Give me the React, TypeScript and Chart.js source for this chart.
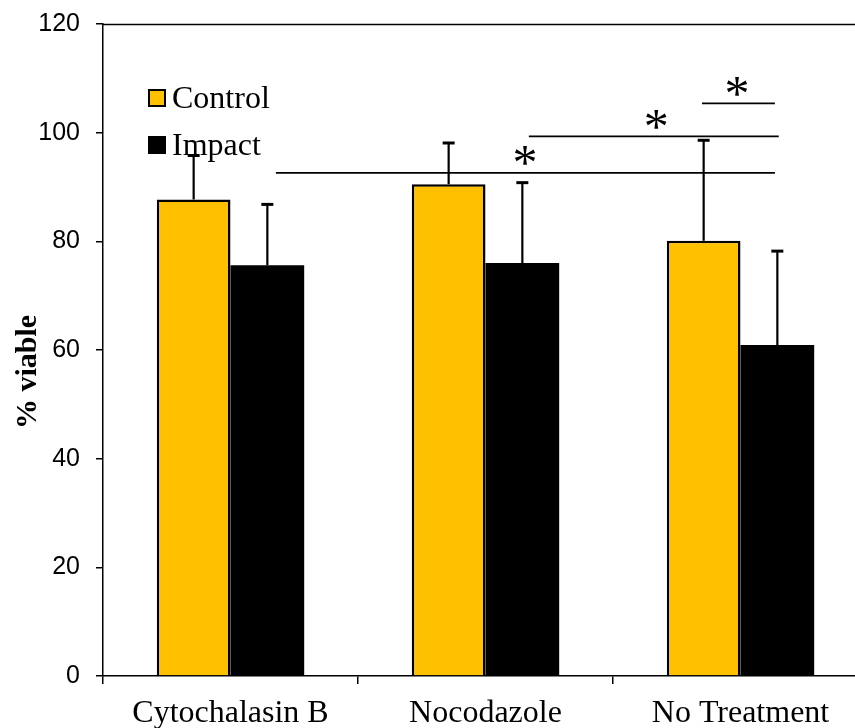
import React, { useEffect, useRef } from "react";
import { Chart, registerables } from "chart.js";

Chart.register(...registerables);

const categories = ["Cytochalasin B", "Nocodazole", "No Treatment"];
const controlValues = [87.7, 90.5, 80.1];
const controlErrors = [8.1, 7.6, 18.5];
const impactValues = [75.6, 76.0, 60.9];
const impactErrors = [11.2, 14.8, 17.3];
const yTicks = [0, 20, 40, 60, 80, 100, 120];

// significance brackets: x in category units, y in data units
const sigFrom = [0.178, 1.17, 1.849];
const sigTo = [2.135, 2.15, 2.135];
const sigY = [92.6, 99.3, 105.4];
const starX = [1.155, 1.67, 1.986];
const starY = [95.5, 102.2, 108.3];

const legendLabels = ["Control", "Impact"];
const colors = ["#FFC000", "#000000"];

const SERIF = "'Liberation Serif', 'Times New Roman', serif";
const SANS = "'Liberation Sans', Arial, sans-serif";

const overlayPlugin = {
  id: "overlay",
  afterDatasetsDraw(chart: any) {
    const ctx = chart.ctx;
    const xs = chart.scales.x;
    const ys = chart.scales.y;
    const area = chart.chartArea;
    const errs = [controlErrors, impactErrors];
    ctx.save();
    // top border
    ctx.strokeStyle = "#000";
    ctx.lineWidth = 1.5;
    ctx.beginPath();
    ctx.moveTo(area.left, Math.round(area.top) + 0.5);
    ctx.lineTo(area.right, Math.round(area.top) + 0.5);
    ctx.stroke();

    // error bars
    chart.data.datasets.forEach((ds: any, di: number) => {
      const meta = chart.getDatasetMeta(di);
      meta.data.forEach((bar: any, i: number) => {
        const v = ds.data[i];
        const top = ys.getPixelForValue(v + errs[di][i]);
        const x = bar.x;
        ctx.strokeStyle = "#000";
        ctx.lineWidth = 2.2;
        ctx.beginPath();
        ctx.moveTo(x, bar.y);
        ctx.lineTo(x, top);
        ctx.stroke();
        ctx.lineWidth = 3;
        ctx.beginPath();
        ctx.moveTo(x - 6, top);
        ctx.lineTo(x + 6, top);
        ctx.stroke();
      });
    });

    // significance lines
    const catPx = (c: number) => {
      const p0 = xs.getPixelForValue(0);
      const p1 = xs.getPixelForValue(1);
      return p0 + (p1 - p0) * c;
    };
    ctx.lineWidth = 1.7;
    ctx.strokeStyle = "#000";
    for (let i = 0; i < sigY.length; i++) {
      const y = ys.getPixelForValue(sigY[i]);
      ctx.beginPath();
      ctx.moveTo(catPx(sigFrom[i]), y);
      ctx.lineTo(catPx(sigTo[i]), y);
      ctx.stroke();
    }
    ctx.fillStyle = "#000";
    const starSize = 50;
    ctx.font = `${starSize}px ${SERIF}`;
    ctx.textAlign = "center";
    ctx.textBaseline = "alphabetic";
    for (let i = 0; i < starX.length; i++) {
      const y = ys.getPixelForValue(starY[i]);
      ctx.fillText("*", catPx(starX[i]), y + 0.44 * starSize);
    }

    // legend
    const legY = [98, 145];
    ctx.font = `32px ${SERIF}`;
    ctx.textAlign = "left";
    ctx.textBaseline = "alphabetic";
    for (let i = 0; i < legendLabels.length; i++) {
      ctx.fillStyle = colors[i];
      ctx.fillRect(148, legY[i] - 9, 18, 18);
      ctx.strokeStyle = "#000";
      ctx.lineWidth = 2;
      ctx.strokeRect(149, legY[i] - 8, 16, 16);
      ctx.fillStyle = "#000";
      ctx.fillText(legendLabels[i], 172, legY[i] + 10);
    }

    // y axis title
    ctx.save();
    ctx.translate(36, 372);
    ctx.rotate(-Math.PI / 2);
    ctx.font = `bold 30px ${SERIF}`;
    ctx.textAlign = "center";
    ctx.textBaseline = "alphabetic";
    ctx.fillStyle = "#000";
    ctx.fillText("% viable", 0, 0);
    ctx.restore();

    ctx.restore();
  },
};

export default function App() {
  const ref = useRef<HTMLCanvasElement | null>(null);
  useEffect(() => {
    if (!ref.current) return;
    const chart = new Chart(ref.current, {
      type: "bar",
      data: {
        labels: categories,
        datasets: [
          {
            label: legendLabels[0],
            data: controlValues,
            backgroundColor: colors[0],
            borderColor: "#000",
            borderWidth: 2.5,
          },
          {
            label: legendLabels[1],
            data: impactValues,
            backgroundColor: colors[1],
            borderColor: "#000",
            borderWidth: 0,
          },
        ],
      },
      options: {
        responsive: false,
        animation: false,
        devicePixelRatio: 1,
        layout: { padding: { left: 0, right: 12, top: 24, bottom: 0 } },
        datasets: {
          bar: { categoryPercentage: 0.578, barPercentage: 1 },
        },
        plugins: {
          legend: { display: false },
          tooltip: { enabled: false },
          title: { display: false },
        },
        scales: {
          x: {
            afterFit: (s: any) => {
              s.height = 52;
              s.paddingLeft = 0;
              s.paddingRight = 0;
            },
            grid: {
              offset: true,
              drawOnChartArea: false,
              drawTicks: true,
              tickLength: 8,
              color: "#000",
              lineWidth: 1.5,
            },
            border: { display: true, color: "#000", width: 1.5 },
            ticks: {
              color: "#000",
              font: { family: SERIF, size: 32 },
              padding: 10,
              maxRotation: 0,
              autoSkip: false,
            },
          },
          y: {
            min: 0,
            max: 120,
            afterFit: (s: any) => {
              s.width = 103;
              s.paddingTop = 0;
              s.paddingBottom = 0;
            },
            afterBuildTicks: (s: any) => {
              s.ticks = yTicks.map((v) => ({ value: v }));
            },
            grid: {
              drawOnChartArea: false,
              drawTicks: true,
              tickLength: 7,
              color: "#000",
              lineWidth: 1.5,
            },
            border: { display: true, color: "#000", width: 1.5 },
            ticks: {
              color: "#000",
              font: { family: SANS, size: 25 },
              padding: 16,
            },
          },
        },
      },
      plugins: [overlayPlugin],
    });
    return () => chart.destroy();
  }, []);
  return (
    <div
      style={{
        position: "fixed",
        left: 0,
        top: 0,
        width: 855,
        height: 728,
        overflow: "hidden",
        background: "#fff",
      }}
    >
      <canvas ref={ref} width={880} height={728} style={{ display: "block" }} />
    </div>
  );
}
